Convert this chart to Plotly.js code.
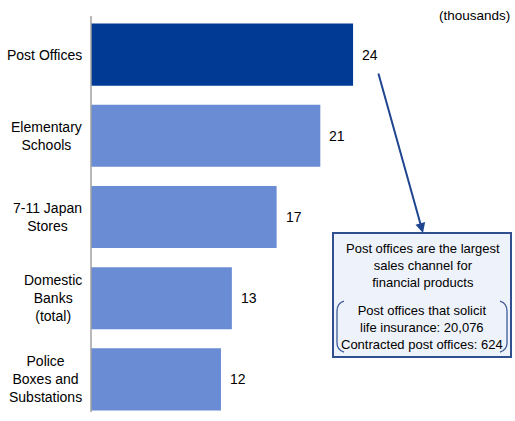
<!DOCTYPE html>
<html><head><meta charset="utf-8">
<script src="https://cdn.plot.ly/plotly-3.0.1.min.js"></script>
<style>html,body{margin:0;padding:0;background:#fff}#c{width:515px;height:421px}</style>
</head><body><div id="c"></div>
<script>
const categories = ['Post Offices', 'Elementary<br>Schools', '7-11 Japan<br>Stores', 'Domestic<br>Banks<br>(total)', 'Police<br>Boxes and<br>Substations'];
const values = [24.0, 21.0, 17.0, 12.9, 11.9];
const valueLabels = ['24', '21', '17', '13', '12'];
const unitLabel = '(thousands)';
const calloutHead = 'Post offices are the largest<br>sales channel for<br>financial products';
const calloutDetail = 'Post offices that solicit<br>life insurance: 20,076<br>Contracted post offices: 624';

const W = 515, H = 421, L = 91, R = 0, T = 14, B = 1;
const pw = W - L - R, ph = H - T - B;
const px = x => (x - L) / pw;
const py = y => (H - B - y) / ph;

const dark = '#003a94', light = '#6a8cd4', lineBlue = '#1f4590';
const font = 'Liberation Sans, Arial, sans-serif';

const colors = categories.map((c, i) => i === 0 ? dark : light);

const annotations = [];
categories.forEach((c, i) => {
  annotations.push({xref: 'paper', yref: 'y', x: px(84), y: c, text: c, showarrow: false,
    xanchor: 'right', yanchor: 'middle', align: 'center', font: {family: font, size: 14, color: '#000'}});
  annotations.push({xref: 'x', yref: 'y', x: values[i], y: c, text: valueLabels[i], showarrow: false,
    xanchor: 'left', yanchor: 'middle', xshift: 7, font: {family: font, size: 14, color: '#000'}});
});
annotations.push({xref: 'paper', yref: 'paper', x: px(512), y: py(16), text: unitLabel, showarrow: false,
  xanchor: 'right', yanchor: 'middle', font: {family: font, size: 13.5, color: '#000'}});
annotations.push({xref: 'paper', yref: 'paper', x: px(423), y: py(265), text: calloutHead, showarrow: false,
  xanchor: 'center', yanchor: 'middle', align: 'center', font: {family: font, size: 13, color: '#000'}});
annotations.push({xref: 'paper', yref: 'paper', x: px(422), y: py(327), text: calloutDetail, showarrow: false,
  xanchor: 'center', yanchor: 'middle', align: 'center', font: {family: font, size: 13, color: '#000'}});
annotations.push({xref: 'paper', yref: 'paper', x: px(423), y: py(233), text: '', showarrow: true,
  arrowhead: 2, arrowsize: 1, arrowwidth: 2, arrowcolor: lineBlue,
  axref: 'pixel', ayref: 'pixel', ax: 378 - 423, ay: 72 - 233});

const shapes = [
  {type: 'line', xref: 'paper', yref: 'paper', x0: 0, x1: 0, y0: py(16), y1: py(412), line: {color: '#a0a0a0', width: 1.5}},
  {type: 'rect', xref: 'paper', yref: 'paper', x0: px(333), x1: px(511), y0: py(233), y1: py(357),
    fillcolor: '#eef2fa', line: {color: '#2f4f8f', width: 2}, layer: 'below'},
  {type: 'path', xref: 'paper', yref: 'paper', line: {color: '#3d5a99', width: 1.3},
    path: `M ${px(344)} ${py(301)} Q ${px(337)} ${py(303)} ${px(337)} ${py(311)} L ${px(337)} ${py(343)} Q ${px(337)} ${py(350)} ${px(344)} ${py(352)}`},
  {type: 'path', xref: 'paper', yref: 'paper', line: {color: '#3d5a99', width: 1.3},
    path: `M ${px(500)} ${py(301)} Q ${px(507)} ${py(303)} ${px(507)} ${py(311)} L ${px(507)} ${py(343)} Q ${px(507)} ${py(350)} ${px(500)} ${py(352)}`}
];

Plotly.newPlot('c', [{
  type: 'bar', orientation: 'h', x: values, y: categories,
  marker: {color: colors, line: {width: 0}}, hoverinfo: 'none'
}], {
  width: W, height: H, margin: {l: L, r: R, t: T, b: B},
  paper_bgcolor: '#fff', plot_bgcolor: '#fff', showlegend: false, bargap: 0.235,
  xaxis: {range: [0, pw / 10.92], visible: false, fixedrange: true},
  yaxis: {autorange: 'reversed', showticklabels: false, showgrid: false, zeroline: false, showline: false, ticks: ''},
  annotations, shapes
}, {staticPlot: true, displayModeBar: false});
</script></body></html>
